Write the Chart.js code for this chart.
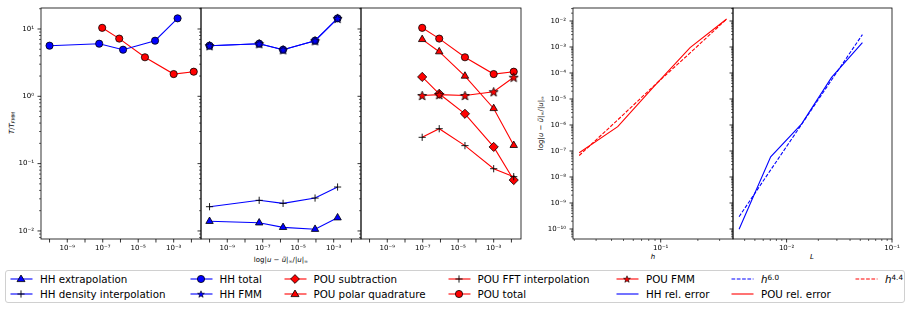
<!DOCTYPE html>
<html lang="en">
<head>
<meta charset="UTF-8">
<title>Cost and convergence</title>
<script src="https://cdn.jsdelivr.net/npm/chart.js@4"></script>
<style>
  body { margin: 0; width: 913px; height: 309px; position: relative; overflow: hidden; background: #fff; font-family: "DejaVu Sans", sans-serif; color: #000; }
  canvas { position: absolute; top: 0; }
  .lbl { position: absolute; font-size: 7px; white-space: nowrap; line-height: 1; }
  .ctr { transform: translate(-50%, -50%); }
  .rot { transform: translate(-50%, -50%) rotate(-90deg); }
  .sb { font-size: 70%; position: relative; top: 0.3em; }
  .sp { font-size: 70%; position: relative; top: -0.45em; }
  #legend { position: absolute; left: 5px; top: 270px; width: 900px; height: 33px; border: 1px solid #d0d0d0; border-radius: 3px; box-sizing: border-box; }
  .item { position: absolute; font-size: 10.3px; line-height: 12px; white-space: nowrap; }
  .item svg { position: absolute; left: 0; top: 1px; }
  .item .txt { position: absolute; left: 30px; top: 0; }
</style>
</head>
<body>
<div class="lbl rot" style="left:12px; top:123px"><i>T</i>/<i>T</i><span class="sb"><i>FMM</i></span></div>
<div class="lbl ctr" style="left:281px; top:260px">log|<i>u</i> − <i>ũ</i>|<span class="sb">∞</span>/|<i>u</i>|<span class="sb">∞</span></div>
<div class="lbl rot" style="left:541px; top:123px">log|<i>u</i> − <i>ũ</i>|<span class="sb">∞</span>/|<i>u</i>|<span class="sb">∞</span></div>
<div class="lbl ctr" style="left:653px; top:257px"><i>h</i></div>
<div class="lbl ctr" style="left:812px; top:257px"><i>L</i></div>
<div id="legend"></div>
<script>
// left three panels: error reached (x) against time relative to FMM (y)
const hhErr = [1.0e-10, 6.3e-8, 1.4e-6, 8.9e-5, 1.66e-3]
const hhTotal = [5.65, 6.05, 4.92, 6.7, 14.4]
const hhFmm = [5.65, 6.05, 4.92, 6.7, 14.4]
const hhDensity = [0.0229, 0.0285, 0.0257, 0.0308, 0.0449]
const hhExtrap = [0.0139, 0.0132, 0.0113, 0.0106, 0.0157]

const pouErr = [9.3e-8, 8.5e-7, 2.4e-5, 1.0e-3, 1.35e-2]
const pouTotal = [10.4, 7.2, 3.8, 2.14, 2.32]
const pouPolar = [7.0, 4.6, 2.0, 0.66, 0.187]
const pouSub = [1.94, 1.09, 0.55, 0.177, 0.057]
const pouFmm = [1.03, 1.06, 1.03, 1.17, 1.92]
const pouFft = [0.246, 0.33, 0.185, 0.084, 0.064]

// right two panels: convergence
const hVals = [0.0219, 0.0449, 0.088, 0.173, 0.342]
const pouRelErr = [8.6e-8, 8.6e-7, 3.0e-5, 9.4e-4, 1.19e-2]
const pouFit = [6.7e-8, 1.57e-6, 3.2e-5, 5.9e-4, 1.19e-2]   // h^4.4
const lVals = [3.54e-3, 7.06e-3, 1.39e-2, 2.67e-2, 5.24e-2]
const hhRelErr = [9.8e-11, 6.0e-8, 1.1e-6, 6.8e-5, 1.46e-3]
const hhFit = [2.97e-10, 1.87e-8, 1.07e-6, 5.4e-5, 3.0e-3]   // h^6.0

const errLabelExps = [-9, -7, -5, -3]
const costLabelExps = [-2, -1, 0, 1]
const convLabelExps = [-10, -9, -8, -7, -6, -5, -4, -3, -2]
const hLabelExps = [-1]
const lLabelExps = [-2, -1]

const FONT = 'DejaVu Sans'
const BLUE = '#0000ff', RED = '#ff0000'

const SUP = { '-': '⁻', '0': '⁰', '1': '¹', '2': '²', '3': '³', '4': '⁴', '5': '⁵', '6': '⁶', '7': '⁷', '8': '⁸', '9': '⁹' }
const sup = e => '10' + String(e).split('').map(c => SUP[c]).join('')
const isDecade = v => { const e = Math.round(Math.log10(v)); return Math.abs(v / Number('1e' + e) - 1) < 1e-6 }

function logTicks(lo, hi, minor) {
  const out = []
  for (let e = Math.floor(Math.log10(lo)); e <= Math.ceil(Math.log10(hi)); e++) {
    for (const m of (minor ? [1, 2, 3, 4, 5, 6, 7, 8, 9] : [1])) {
      const v = m * Number('1e' + e)
      if (v >= lo && v <= hi) out.push(v)
    }
  }
  return out
}

function starImg(fill) {
  const c = document.createElement('canvas')
  c.width = 11; c.height = 11
  const g = c.getContext('2d')
  g.beginPath()
  for (let i = 0; i < 10; i++) {
    const r = i % 2 ? 2.0 : 4.8
    const a = -Math.PI / 2 + i * Math.PI / 5
    g.lineTo(5.5 + r * Math.cos(a), 6 + r * Math.sin(a))
  }
  g.closePath()
  g.fillStyle = fill; g.fill()
  g.strokeStyle = '#000'; g.lineWidth = 0.8; g.stroke()
  return c
}

function series(xs, ys, color, marker, extra) {
  const d = {
    data: xs.map((x, i) => ({ x, y: ys[i] })),
    borderColor: color, borderWidth: 1.1, fill: false, tension: 0,
    pointBorderColor: '#000', pointBorderWidth: 0.8, pointBackgroundColor: color
  }
  if (marker === 'o') { d.pointStyle = 'circle'; d.pointRadius = 3.6 }
  else if (marker === '^') { d.pointStyle = 'triangle'; d.pointRadius = 4.3 }
  else if (marker === 'D') { d.pointStyle = 'rectRot'; d.pointRadius = 4.6 }
  else if (marker === '+') { d.pointStyle = 'cross'; d.pointRadius = 3.6; d.pointBorderWidth = 0.9 }
  else if (marker === '*') { d.pointStyle = starImg(color); d.pointRadius = 5 }
  else d.pointRadius = 0
  return Object.assign(d, extra || {})
}

function logAxis(min, max, minor, labelExps, isY, size) {
  const vals = logTicks(min, max, minor)
  return {
    type: 'logarithmic', min, max,
    afterBuildTicks: s => { s.ticks = vals.map(v => ({ value: v })) },
    afterFit: s => {
      if (isY) s.width = size; else s.height = size
      s.paddingLeft = s.paddingRight = s.paddingTop = s.paddingBottom = 0
    },
    ticks: {
      autoSkip: false, maxRotation: 0, minRotation: 0, color: '#000',
      padding: isY ? 7 : 4.5,
      font: { family: FONT, size: 7 },
      callback: v => {
        if (!isDecade(v)) return ''
        const e = Math.round(Math.log10(v))
        return labelExps.includes(e) ? sup(e) : ''
      }
    },
    grid: { display: false, drawTicks: false, tickLength: 0 },
    border: { display: false }
  }
}

// frame and tick marks, matplotlib style
const frame = {
  id: 'frame',
  afterDraw(c) {
    const ctx = c.ctx, a = c.chartArea
    ctx.save()
    ctx.strokeStyle = '#000'
    for (const s of [c.scales.x, c.scales.y]) {
      for (const t of s.ticks) {
        const major = isDecade(t.value)
        const len = major ? 3.5 : 2
        ctx.lineWidth = major ? 0.8 : 0.6
        const p = s.getPixelForValue(t.value)
        ctx.beginPath()
        if (s.axis === 'x') { ctx.moveTo(p, a.bottom); ctx.lineTo(p, a.bottom + len) }
        else { ctx.moveTo(a.left, p); ctx.lineTo(a.left - len, p) }
        ctx.stroke()
      }
    }
    ctx.lineWidth = 0.8
    ctx.strokeRect(a.left, a.top, a.right - a.left, a.bottom - a.top)
    ctx.restore()
  }
}

const errMin = 3.3e-11, errMax = 0.0347
const costMin = 0.00759, costMax = 20.5
const convMin = 4.12e-11, convMax = 0.0316

const panels = [
  { left: 41, right: 201, lw: 41, rp: 8,
    x: logAxis(errMin, errMax, false, errLabelExps, false, 31),
    y: logAxis(costMin, costMax, true, costLabelExps, true, 41),
    datasets: [
      series(hhErr, hhTotal, BLUE, 'o'),
      series(pouErr, pouTotal, RED, 'o')
    ] },
  { left: 201, right: 361, lw: 6, rp: 8,
    x: logAxis(errMin, errMax, false, errLabelExps, false, 31),
    y: logAxis(costMin, costMax, true, [], true, 6),
    datasets: [
      series(hhErr, hhFmm, BLUE, '*'),
      series(hhErr, hhTotal, BLUE, 'o'),
      series(hhErr, hhDensity, BLUE, '+'),
      series(hhErr, hhExtrap, BLUE, '^')
    ] },
  { left: 361, right: 521, lw: 6, rp: 12,
    x: logAxis(errMin, errMax, false, errLabelExps, false, 31),
    y: logAxis(costMin, costMax, true, [], true, 6),
    datasets: [
      series(pouErr, pouFmm, RED, '*'),
      series(pouErr, pouFft, RED, '+'),
      series(pouErr, pouTotal, RED, 'o'),
      series(pouErr, pouPolar, RED, '^'),
      series(pouErr, pouSub, RED, 'D')
    ] },
  { left: 573, right: 733, lw: 40, rp: 8,
    x: logAxis(0.0195, 0.385, true, hLabelExps, false, 31),
    y: logAxis(convMin, convMax, true, convLabelExps, true, 40),
    datasets: [
      series(hVals, pouFit, RED, null, { borderDash: [3.7, 1.6] }),
      series(hVals, pouRelErr, RED, null)
    ] },
  { left: 733, right: 892, lw: 6, rp: 14,
    x: logAxis(0.0031, 0.1, true, lLabelExps, false, 31),
    y: logAxis(convMin, convMax, true, [], true, 6),
    datasets: [
      series(lVals, hhFit, BLUE, null, { borderDash: [3.7, 1.6] }),
      series(lVals, hhRelErr, BLUE, null)
    ] }
]

panels.forEach(p => {
  const cv = document.createElement('canvas')
  cv.width = p.lw + (p.right - p.left) + p.rp
  cv.height = 270
  cv.style.left = (p.left - p.lw) + 'px'
  document.body.appendChild(cv)
  new Chart(cv.getContext('2d'), {
    type: 'line',
    data: { datasets: p.datasets },
    options: {
      responsive: false, animation: false,
      layout: { padding: { top: 8, right: p.rp, left: 0, bottom: 0 }, autoPadding: false },
      scales: { x: p.x, y: p.y },
      plugins: { legend: { display: false }, tooltip: { enabled: false } }
    },
    plugins: [frame]
  })
})

// legend, two rows filled column by column
const legendItems = [
  ['HH extrapolation', BLUE, '^', false],
  ['HH density interpolation', BLUE, '+', false],
  ['HH total', BLUE, 'o', false],
  ['HH FMM', BLUE, '*', false],
  ['POU subtraction', RED, 'D', false],
  ['POU polar quadrature', RED, '^', false],
  ['POU FFT interpolation', RED, '+', false],
  ['POU total', RED, 'o', false],
  ['POU FMM', RED, '*', false],
  ['HH rel. error', BLUE, null, false],
  ['<i>h</i><span class="sp">6.0</span>', BLUE, null, true],
  ['POU rel. error', RED, null, false],
  ['<i>h</i><span class="sp">4.4</span>', RED, null, true]
]
const colX = [4, 183.5, 277.5, 441.5, 610, 725, 849]
const rowY = [2, 17]

function handleSvg(color, marker, dashed) {
  let m = ''
  if (marker === 'o') m = `<circle cx="11" cy="5" r="3.6" fill="${color}" stroke="#000" stroke-width="0.8"/>`
  else if (marker === '^') m = `<polygon points="11,1 15,7.6 7,7.6" fill="${color}" stroke="#000" stroke-width="0.8"/>`
  else if (marker === 'D') m = `<polygon points="11,0.6 15.4,5 11,9.4 6.6,5" fill="${color}" stroke="#000" stroke-width="0.8"/>`
  else if (marker === '+') m = `<path d="M11 1.4V8.6M7.4 5H14.6" stroke="#000" stroke-width="0.9"/>`
  else if (marker === '*') {
    const pts = []
    for (let i = 0; i < 10; i++) {
      const r = i % 2 ? 1.5 : 3.6, a = -Math.PI / 2 + i * Math.PI / 5
      pts.push((11 + r * Math.cos(a)).toFixed(2) + ',' + (5.4 + r * Math.sin(a)).toFixed(2))
    }
    m = `<polygon points="${pts.join(' ')}" fill="${color}" stroke="#000" stroke-width="0.6"/>`
  }
  const dash = dashed ? ' stroke-dasharray="3.7 1.6"' : ''
  return `<svg width="23" height="10"><line x1="0.5" y1="5" x2="22.5" y2="5" stroke="${color}" stroke-width="1.1"${dash}/>${m}</svg>`
}

const legend = document.getElementById('legend')
legendItems.forEach((it, i) => {
  const d = document.createElement('div')
  d.className = 'item'
  d.style.left = colX[Math.floor(i / 2)] + 'px'
  d.style.top = rowY[i % 2] + 'px'
  d.innerHTML = handleSvg(it[1], it[2], it[3]) + `<span class="txt">${it[0]}</span>`
  legend.appendChild(d)
})
</script>
</body>
</html>
